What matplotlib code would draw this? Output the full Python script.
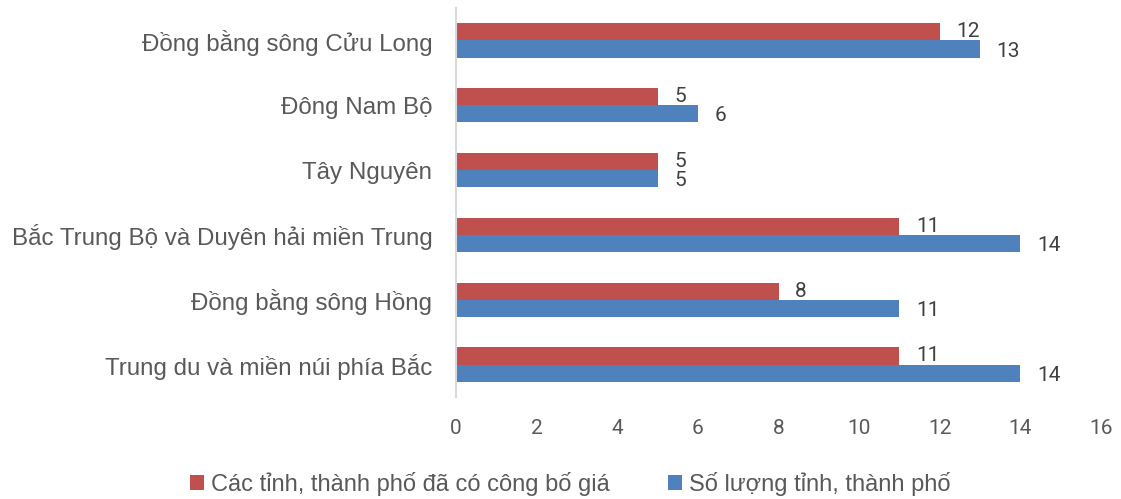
import numpy as np
import matplotlib.pyplot as plt

regions = ['Trung du và miền núi phía Bắc', 'Đồng bằng sông Hồng',
           'Bắc Trung Bộ và Duyên hải miền Trung', 'Tây Nguyên',
           'Đông Nam Bộ', 'Đồng bằng sông Cửu Long']
so_luong = [14, 11, 14, 5, 6, 13]
da_cong_bo = [11, 8, 11, 5, 5, 12]
xticks = [0, 2, 4, 6, 8, 10, 12, 14, 16]

red = '#C0504D'
blue = '#4F81BD'
txt = '#404040'
lab_font = ['Liberation Sans', 'DejaVu Sans']
num_font = ['Roboto', 'DejaVu Sans']

fig = plt.figure(figsize=(11.21, 4.99), dpi=100)
ax = fig.add_axes([456 / 1121, 1 - 397 / 499, 645 / 1121, 389 / 499])

y = np.arange(len(regions))
h = 0.265
b1 = ax.barh(y - h / 2, so_luong, height=h, color=blue, label='Số lượng tỉnh, thành phố')
b2 = ax.barh(y + h / 2, da_cong_bo, height=h, color=red, label='Các tỉnh, thành phố đã có công bố giá')

for yy, v in zip(y - h / 2, so_luong):
    ax.annotate(str(v), (v, yy), xytext=(12, -1.5), textcoords='offset points',
                ha='left', va='center', fontsize=15, color=txt, family=num_font)
for yy, v in zip(y + h / 2, da_cong_bo):
    ax.annotate(str(v), (v, yy), xytext=(12, 0), textcoords='offset points',
                ha='left', va='center', fontsize=15, color=txt, family=num_font)

ax.set_xlim(0, 16)
ax.set_ylim(-0.5, len(regions) - 0.5)
ax.set_xticks(xticks)
ax.set_xticklabels([str(t) for t in xticks], fontsize=15, color='#595959', family=num_font)
ax.set_yticks(y)
ax.set_yticklabels(regions, fontsize=17.4, color='#595959', family=lab_font)
ax.tick_params(axis='both', length=0)
ax.tick_params(axis='x', pad=16)
ax.tick_params(axis='y', pad=17)
for s in ['top', 'right', 'bottom']:
    ax.spines[s].set_visible(False)
ax.spines['left'].set_color('#D9D9D9')
ax.spines['left'].set_linewidth(1.5)

leg = fig.legend(handles=[b2, b1], loc='center', bbox_to_anchor=(0.5085, 1 - 484 / 499),
                 ncol=2, frameon=False, prop={'family': lab_font, 'size': 17},
                 handlelength=0.6, handleheight=0.6, handletextpad=0.3, columnspacing=2.45)
for t in leg.get_texts():
    t.set_color('#595959')

fig.savefig('out.png', dpi=100)
